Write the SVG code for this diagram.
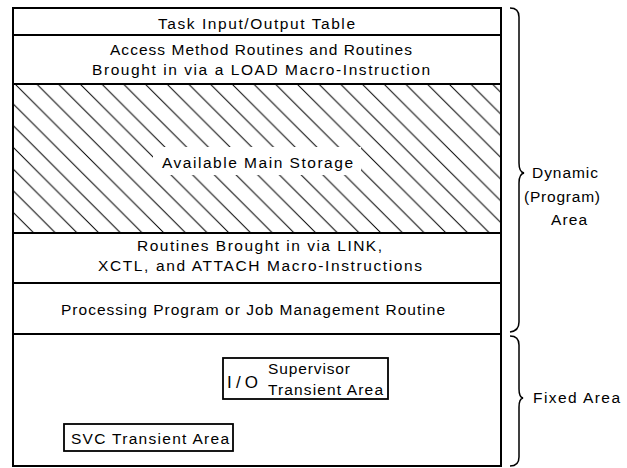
<svg xmlns="http://www.w3.org/2000/svg" width="627" height="468" viewBox="0 0 627 468">
<style>
text{font-family:"Liberation Sans","DejaVu Sans",sans-serif;font-size:15.5px;fill:#000}
.ln{stroke:#000;stroke-width:2;fill:none}
.bx{stroke:#000;stroke-width:1.8;fill:#fff}
.br{stroke:#000;stroke-width:1.5;fill:none}
</style>
<defs>
<pattern id="hatch" patternUnits="userSpaceOnUse" x="15" y="84" width="21.7" height="21.7">
<path d="M-2,-2 L23.7,23.7 M-2,19.7 L2,23.7 M19.7,-2 L23.7,2" stroke="#000" stroke-width="1"/>
</pattern>
</defs>
<rect x="0" y="0" width="627" height="468" fill="#fff"/>
<g id="storage">
<rect x="13" y="84" width="488" height="149" fill="url(#hatch)"/>
<rect x="153" y="147" width="208" height="28" fill="#fff"/>
<text x="162" y="168" textLength="191" lengthAdjust="spacing">Available Main Storage</text>
</g>
<g id="outline">
<rect x="13" y="8" width="488" height="458" class="ln"/>
<line x1="13" y1="35" x2="501" y2="35" class="ln"/>
<line x1="13" y1="84" x2="501" y2="84" class="ln"/>
<line x1="13" y1="233" x2="501" y2="233" class="ln"/>
<line x1="13" y1="283" x2="501" y2="283" class="ln"/>
<line x1="13" y1="334" x2="501" y2="334" class="ln"/>
</g>
<g id="tiot">
<text x="158" y="29" textLength="197" lengthAdjust="spacing">Task Input/Output Table</text>
</g>
<g id="access">
<text x="110" y="55" textLength="302" lengthAdjust="spacing">Access Method Routines and Routines</text>
<text x="92" y="75" textLength="338" lengthAdjust="spacing">Brought in via a LOAD Macro-Instruction</text>
</g>
<g id="link">
<text x="137" y="251" textLength="245" lengthAdjust="spacing">Routines Brought in via LINK,</text>
<text x="98" y="271" textLength="324" lengthAdjust="spacing">XCTL, and ATTACH Macro-Instructions</text>
</g>
<g id="processing">
<text x="61" y="315" textLength="384" lengthAdjust="spacing">Processing Program or Job Management Routine</text>
</g>
<g id="io">
<rect x="223" y="358" width="165" height="41" class="bx"/>
<text x="227" y="388" textLength="31" lengthAdjust="spacing" style="font-size:17px">I/O</text>
<text x="268" y="374" textLength="82" lengthAdjust="spacing">Supervisor</text>
<text x="268" y="395" textLength="115" lengthAdjust="spacing">Transient Area</text>
</g>
<g id="svc">
<rect x="64" y="424" width="169" height="27" class="bx"/>
<text x="71" y="444" textLength="158" lengthAdjust="spacing">SVC Transient Area</text>
</g>
<g id="connectors">
<path class="br" d="M510,8 Q519,8 519,17 L519,163 Q519,172 524,173 Q519,174 519,183 L519,322 Q519,331 510,332"/>
<path class="br" d="M510,336 Q519,336 519,345 L519,389 Q519,397 523,398 Q519,399 519,407 L519,457 Q519,466 510,466"/>
</g>
<g id="dynamic-label">
<text x="565" y="178" text-anchor="middle" textLength="66" lengthAdjust="spacing">Dynamic</text>
<text x="562" y="202" text-anchor="middle" textLength="76" lengthAdjust="spacing">(Program)</text>
<text x="569" y="225" text-anchor="middle" textLength="36" lengthAdjust="spacing">Area</text>
</g>
<g id="fixed-label">
<text x="533" y="403" textLength="87" lengthAdjust="spacing">Fixed Area</text>
</g>
</svg>
